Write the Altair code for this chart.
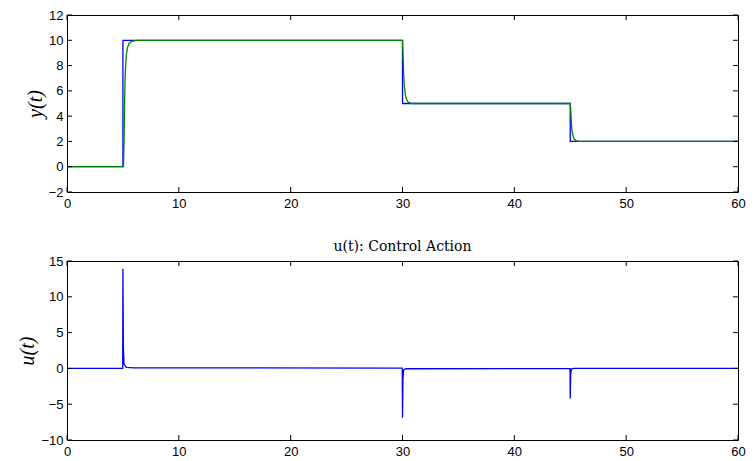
import altair as alt
import pandas as pd

# ---- data ----
ref_t = [0, 5, 5, 30, 30, 45, 45, 60]
ref_y = [0, 0, 10, 10, 5, 5, 2, 2]

out_t = [0, 5.05, 5.1, 5.15, 5.2, 5.3, 5.4, 5.55, 5.8, 6.2, 30.0, 30.05, 30.1, 30.15, 30.25, 30.35, 30.5, 30.8,
         45.0, 45.05, 45.1, 45.15, 45.25, 45.35, 45.5, 45.8, 60]
out_y = [0, 0, 2.0, 5.0, 7.2, 8.8, 9.4, 9.75, 9.92, 10.0, 10.0, 8.8, 7.4, 6.5, 5.7, 5.35, 5.12, 5.0,
         5.0, 4.3, 3.5, 2.9, 2.45, 2.2, 2.07, 2.0, 2.0]

u_t = [0, 4.98, 5.0, 5.04, 5.1, 5.3, 6.0, 29.98, 30.0, 30.04, 30.1, 30.3, 44.98, 45.0, 45.04, 45.1, 45.3, 60]
u_v = [0, 0, 13.9, 3.0, 0.6, 0.15, 0.08, 0.05, -6.9, -1.5, -0.2, -0.05, -0.02, -4.2, -0.8, -0.1, 0.0, 0.0]

x_ticks = [0, 10, 20, 30, 40, 50, 60]
y_ticks_top = [-2, 0, 2, 4, 6, 8, 10, 12]
y_ticks_bot = [-10, -5, 0, 5, 10, 15]

W, H1, H2 = 671, 177, 179
TL = 5  # inward tick length

df_ref = pd.DataFrame({"t": ref_t, "v": ref_y, "i": range(len(ref_t))})
df_out = pd.DataFrame({"t": out_t, "v": out_y, "i": range(len(out_t))})
df_u = pd.DataFrame({"t": u_t, "v": u_v, "i": range(len(u_t))})

xscale = alt.Scale(domain=[0, 60], nice=False, zero=False)

def x_axis():
    return alt.Axis(values=x_ticks, title=None, labelFlush=False, labelOverlap=False,
                    labelPadding=5, format="d", grid=False, ticks=False, domain=False)

def y_axis(vals, title):
    return alt.Axis(values=vals, title=title, labelFlush=False, labelOverlap=False,
                    labelPadding=4, titlePadding=3, format="d", grid=False, ticks=False, domain=False)

def tick_layers(yvals, h, yscale, ytitle):
    dx = pd.DataFrame({"tv": x_ticks})
    dy = pd.DataFrame({"tv": yvals})
    bx = alt.Chart(dx).mark_rule(color="black", strokeWidth=1).encode(
        x=alt.X("tv:Q", scale=xscale, axis=x_axis()), y=alt.value(h), y2=alt.value(h - TL))
    tx = alt.Chart(dx).mark_rule(color="black", strokeWidth=1).encode(
        x=alt.X("tv:Q", scale=xscale, axis=x_axis()), y=alt.value(0), y2=alt.value(TL))
    ly = alt.Chart(dy).mark_rule(color="black", strokeWidth=1).encode(
        y=alt.Y("tv:Q", scale=yscale, axis=y_axis(yvals, ytitle)), x=alt.value(0), x2=alt.value(TL))
    ry = alt.Chart(dy).mark_rule(color="black", strokeWidth=1).encode(
        y=alt.Y("tv:Q", scale=yscale, axis=y_axis(yvals, ytitle)), x=alt.value(W), x2=alt.value(W - TL))
    return [bx, tx, ly, ry]

ys_top = alt.Scale(domain=[-2, 12], nice=False, zero=False)
ys_bot = alt.Scale(domain=[-10, 15], nice=False, zero=False)

top_ref = alt.Chart(df_ref).mark_line(color="#0000ff", strokeWidth=1.3).encode(
    x=alt.X("t:Q", scale=xscale, axis=x_axis()),
    y=alt.Y("v:Q", scale=ys_top, axis=y_axis(y_ticks_top, "y(t)")),
    order="i:Q")
top_out = alt.Chart(df_out).mark_line(color="#008000", strokeWidth=1.3).encode(
    x=alt.X("t:Q", scale=xscale, axis=x_axis()),
    y=alt.Y("v:Q", scale=ys_top, axis=y_axis(y_ticks_top, "y(t)")),
    order="i:Q")

top = alt.layer(top_ref, top_out, *tick_layers(y_ticks_top, H1, ys_top, "y(t)")).properties(width=W, height=H1)

bot_u = alt.Chart(df_u).mark_line(color="#0000ff", strokeWidth=1.3).encode(
    x=alt.X("t:Q", scale=xscale, axis=x_axis()),
    y=alt.Y("v:Q", scale=ys_bot, axis=y_axis(y_ticks_bot, "u(t)")),
    order="i:Q")

bot = alt.layer(bot_u, *tick_layers(y_ticks_bot, H2, ys_bot, "u(t)")).properties(
    width=W, height=H2,
    title=alt.TitleParams("u(t): Control Action", font="DejaVu Serif", fontSize=14,
                          fontWeight="normal", color="black", offset=1))

chart = alt.vconcat(top, bot, spacing=28).properties(
    padding={"left": 9, "top": 0, "right": 0, "bottom": 0},
    background="white"
).configure_view(stroke="black", strokeWidth=1).configure_axis(
    grid=False, domain=False, ticks=False, labelFont="Liberation Sans", labelFontSize=13,
    labelColor="black", titleFont="Liberation Serif", titleFontStyle="italic",
    titleFontWeight="normal", titleFontSize=20, titleColor="black"
)

chart.save("out.html", embed_options={"renderer": "svg", "actions": False})
